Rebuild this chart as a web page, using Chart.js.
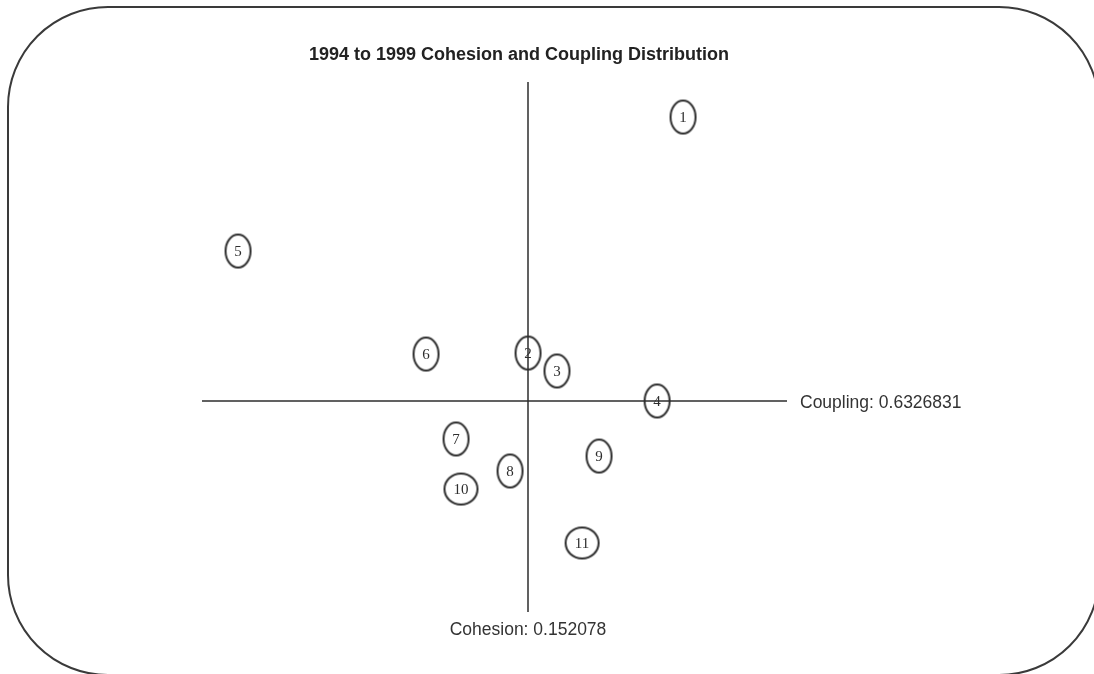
<!DOCTYPE html>
<html>
<head>
<meta charset="utf-8">
<script src="https://cdn.jsdelivr.net/npm/chart.js@4/dist/chart.umd.min.js"></script>
<style>
  html, body { margin: 0; padding: 0; background: #ffffff; }
  #wrap { width: 1094px; height: 674px; position: relative; }
</style>
</head>
<body>
<div id="wrap"><canvas id="c" width="1094" height="674"></canvas></div>
<script>
// ---- data ----
const titleText = '1994 to 1999 Cohesion and Coupling Distribution';
const pointLabels = ['1', '2', '3', '4', '5', '6', '7', '8', '9', '10', '11'];
const cohesionValues = [0.2244, 0.1521, 0.1656, 0.2123, 0.0168, 0.1045, 0.1185, 0.1437, 0.1852, 0.1208, 0.1773];
const couplingValues = [0.9459, 0.6856, 0.6658, 0.6327, 0.7981, 0.6845, 0.5908, 0.5555, 0.5720, 0.5356, 0.4761];
const cohesionMean = 0.152078;
const couplingMean = 0.6326831;
const cohesionLabel = 'Cohesion: ' + cohesionMean;
const couplingLabel = 'Coupling: ' + couplingMean;
const xRange = [0, 0.2729];
const yRange = [0.4, 0.9845];

const INK = '#2e2e2e';

function ellipseCanvas(rx, ry) {
  const c = document.createElement('canvas');
  c.width = Math.ceil(rx * 2 + 6);
  c.height = Math.ceil(ry * 2 + 6);
  const g = c.getContext('2d');
  g.strokeStyle = INK;
  g.lineWidth = 2;
  g.beginPath();
  g.ellipse(c.width / 2, c.height / 2, rx, ry, 0, 0, Math.PI * 2);
  g.stroke();
  return c;
}
const smallEllipse = ellipseCanvas(12.5, 16.5);
const wideEllipse = ellipseCanvas(16.5, 15.5);

const points = cohesionValues.map((x, i) => ({ x: x, y: couplingValues[i] }));

const framePlugin = {
  id: 'frame',
  beforeDraw(chart) {
    const ctx = chart.ctx;
    ctx.save();
    ctx.fillStyle = '#ffffff';
    ctx.fillRect(0, 0, chart.width, chart.height);
    ctx.strokeStyle = '#3a3a3a';
    ctx.lineWidth = 2;
    ctx.beginPath();
    ctx.roundRect(8, 7, 1091, 668, 100);
    ctx.stroke();
    ctx.restore();
  },
  beforeDatasetsDraw(chart) {
    const ctx = chart.ctx;
    const xs = chart.scales.x, ys = chart.scales.y;
    const a = chart.chartArea;
    const px = xs.getPixelForValue(cohesionMean);
    const py = ys.getPixelForValue(couplingMean);
    ctx.save();
    ctx.strokeStyle = INK;
    ctx.lineWidth = 1.5;
    ctx.beginPath();
    ctx.moveTo(a.left, py);
    ctx.lineTo(a.right, py);
    ctx.moveTo(px, a.top);
    ctx.lineTo(px, a.bottom);
    ctx.stroke();
    // texts
    ctx.fillStyle = '#222';
    ctx.font = 'bold 18px "Liberation Sans", Arial, sans-serif';
    ctx.textAlign = 'center';
    ctx.textBaseline = 'middle';
    ctx.fillText(titleText, 519, 55);
    ctx.font = '17.5px "Liberation Sans", Arial, sans-serif';
    ctx.fillStyle = '#333';
    ctx.textAlign = 'left';
    ctx.fillText(couplingLabel, a.right + 13, py + 2);
    ctx.textAlign = 'center';
    ctx.fillText(cohesionLabel, px, a.bottom + 18);
    ctx.restore();
  },
  afterDatasetsDraw(chart) {
    const ctx = chart.ctx;
    const meta = chart.getDatasetMeta(0);
    ctx.save();
    ctx.fillStyle = INK;
    ctx.font = '15px "Liberation Serif", "Times New Roman", serif';
    ctx.textAlign = 'center';
    ctx.textBaseline = 'middle';
    meta.data.forEach((el, i) => {
      ctx.fillText(pointLabels[i], el.x, el.y + 1);
    });
    ctx.restore();
  }
};

new Chart(document.getElementById('c'), {
  type: 'scatter',
  data: {
    labels: pointLabels,
    datasets: [{
      label: 'Packages',
      data: points,
      pointStyle: (ctx) => (pointLabels[ctx.dataIndex] && pointLabels[ctx.dataIndex].length > 1) ? wideEllipse : smallEllipse,
      pointRadius: 14,
      pointHoverRadius: 14
    }]
  },
  options: {
    responsive: false,
    animation: false,
    events: [],
    layout: { padding: { left: 202, right: 307, top: 82, bottom: 62 } },
    plugins: {
      legend: { display: false },
      title: { display: false },
      tooltip: { enabled: false }
    },
    scales: {
      x: { type: 'linear', min: xRange[0], max: xRange[1], display: false },
      y: { type: 'linear', min: yRange[0], max: yRange[1], display: false }
    }
  },
  plugins: [framePlugin]
});
</script>
</body>
</html>
